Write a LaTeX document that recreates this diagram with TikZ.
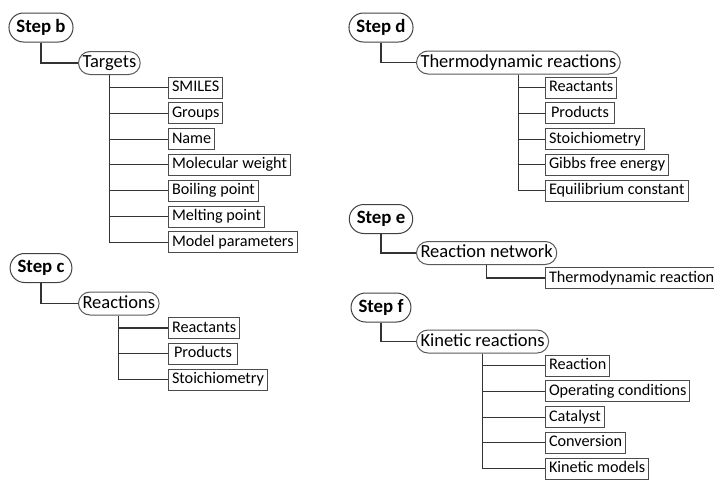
\documentclass[tikz,border=0pt]{standalone}
\usepackage{fontspec}
\setmainfont{Carlito}
\usetikzlibrary{positioning}

\begin{document}
\begin{tikzpicture}[
    x=1pt, y=-1pt,
    node distance=3.8pt,
    % estilos de los nodos
    stepbox/.style={rectangle, draw=black!75, line width=1pt, rounded corners=14.5pt, inner xsep=7.5pt, inner ysep=6pt, text height=13pt, text depth=4pt, font=\fontsize{18.8}{20}\selectfont\bfseries},
    topic/.style={rectangle, draw=black!65, line width=1pt, rounded corners=11.5pt, inner xsep=4pt, inner ysep=2.5pt, text height=13.5pt, text depth=4.5pt, font=\fontsize{18.5}{20}\selectfont, anchor=west},
    leaf/.style={rectangle, draw=black!70, line width=1pt, inner xsep=3.5pt, inner ysep=3pt, text height=11.5pt, text depth=3.5pt, font=\fontsize{16.2}{18}\selectfont},
    link/.style={draw=black!80, line width=1.1pt}
    ]
    \useasboundingbox (0,0) rectangle (714,479);

    % Step b
    \node[stepbox] (stepb) at (41,27.5) {Step b};
    \node[topic] (targets) at (78,63) {Targets};
    \node[leaf, anchor=west] (smiles) at (168,87.5) {SMILES};
    \node[leaf, below=of smiles.south west, anchor=north west] (groups) {Groups};
    \node[leaf, below=of groups.south west, anchor=north west] (name) {Name};
    \node[leaf, below=of name.south west, anchor=north west] (molw) {Molecular weight};
    \node[leaf, below=of molw.south west, anchor=north west] (boilp) {Boiling point};
    \node[leaf, below=of boilp.south west, anchor=north west] (meltp) {Melting point};
    \node[leaf, below=of meltp.south west, anchor=north west] (modelp) {Model parameters};

    \draw[link] (stepb.south) |- (targets.west);
    \draw[link] (targets.south) |- (smiles.west);
    \draw[link] (targets.south) |- (groups.west);
    \draw[link] (targets.south) |- (name.west);
    \draw[link] (targets.south) |- (molw.west);
    \draw[link] (targets.south) |- (boilp.west);
    \draw[link] (targets.south) |- (meltp.west);
    \draw[link] (targets.south) |- (modelp.west);

    % Step c
    \node[stepbox] (stepc) at (41,268) {Step c};
    \node[topic] (reac) at (78,303.5) {Reactions};
    \node[leaf, anchor=west] (creact) at (168,328) {Reactants};
    \node[leaf, minimum width=69pt, below=of creact.south west, anchor=north west] (cprod) {Products};
    \node[leaf, below=of cprod.south west, anchor=north west] (cstoich) {Stoichiometry};

    \draw[link] (stepc.south) |- (reac.west);
    \draw[link] (reac.south) |- (creact.west);
    \draw[link] (reac.south) |- (cprod.west);
    \draw[link] (reac.south) |- (cstoich.west);

    % Step d
    \node[stepbox] (stepd) at (381,27.5) {Step d};
    \node[topic] (thermo) at (416,62.5) {Thermodynamic reactions};
    \node[leaf, anchor=west] (dreact) at (545,87.5) {Reactants};
    \node[leaf, minimum width=69pt, below=of dreact.south west, anchor=north west] (dprod) {Products};
    \node[leaf, below=of dprod.south west, anchor=north west] (dstoich) {Stoichiometry};
    \node[leaf, below=of dstoich.south west, anchor=north west] (gibbs) {Gibbs free energy};
    \node[leaf, below=of gibbs.south west, anchor=north west] (equil) {Equilibrium constant};

    \draw[link] (stepd.south) |- (thermo.west);
    \draw[link] (thermo.south) |- (dreact.west);
    \draw[link] (thermo.south) |- (dprod.west);
    \draw[link] (thermo.south) |- (dstoich.west);
    \draw[link] (thermo.south) |- (gibbs.west);
    \draw[link] (thermo.south) |- (equil.west);

    % Step e
    \node[stepbox] (stepe) at (381,219) {Step e};
    \node[topic] (network) at (416,253) {Reaction network};
    \node[leaf, anchor=west] (ethermo) at (545,278) {Thermodynamic reactions};

    \draw[link] (stepe.south) |- (network.west);
    \draw[link] (network.south) |- (ethermo.west);

    % Step f
    \node[stepbox] (stepf) at (381,307.5) {Step f};
    \node[topic] (kinetic) at (416,341.5) {Kinetic reactions};
    \node[leaf, anchor=west] (freac) at (545,365.5) {Reaction};
    \node[leaf, below=of freac.south west, anchor=north west] (opcond) {Operating conditions};
    \node[leaf, below=of opcond.south west, anchor=north west] (catal) {Catalyst};
    \node[leaf, below=of catal.south west, anchor=north west] (conv) {Conversion};
    \node[leaf, below=of conv.south west, anchor=north west] (kinmod) {Kinetic models};

    \draw[link] (stepf.south) |- (kinetic.west);
    \draw[link] (kinetic.south) |- (freac.west);
    \draw[link] (kinetic.south) |- (opcond.west);
    \draw[link] (kinetic.south) |- (catal.west);
    \draw[link] (kinetic.south) |- (conv.west);
    \draw[link] (kinetic.south) |- (kinmod.west);

\end{tikzpicture}
\end{document}
